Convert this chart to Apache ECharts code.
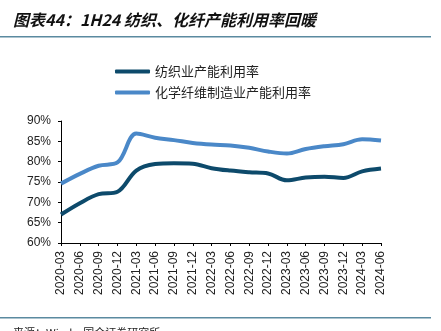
<!DOCTYPE html>
<html>
<head>
<meta charset="utf-8">
<script src="https://cdn.jsdelivr.net/npm/echarts@6/dist/echarts.min.js"></script>
<style>html,body{margin:0;padding:0;background:#fff}#c{width:441px;height:331px}</style>
</head>
<body>
<div id="c"></div>
<script>
var categories = ['2020-03','2020-06','2020-09','2020-12','2021-03','2021-06','2021-09','2021-12','2022-03','2022-06','2022-09','2022-12','2023-03','2023-06','2023-09','2023-12','2024-03','2024-06'];
var textileValues = [67.0, 69.8, 72.0, 72.6, 77.8, 79.4, 79.6, 79.5, 78.4, 77.8, 77.4, 77.1, 75.4, 76.1, 76.3, 76.0, 77.6, 78.3];
var fiberValues = [74.6, 77.0, 79.0, 79.8, 86.9, 85.9, 85.3, 84.6, 84.2, 84.0, 83.4, 82.5, 82.0, 83.1, 83.8, 84.3, 85.5, 85.2];
var seriesNames = ['纺织业产能利用率', '化学纤维制造业产能利用率'];
var titleText = '图表44：1H24 纺织、化纤产能利用率回暖';
var sourceText = '来源：Wind，国金证券研究所';

var chart = echarts.init(document.getElementById('c'), null, {renderer: 'canvas'});
var cjk = '"Liberation Sans", Arial, "Noto Sans CJK SC", sans-serif';
chart.setOption({
  animation: false,
  backgroundColor: '#fff',
  graphic: [
    {type: 'text', left: 13, top: 12, style: {text: titleText, font: 'italic bold 16px "Noto Sans CJK SC", sans-serif', fill: '#111'}},
    {type: 'rect', shape: {x: 0, y: 36, width: 431, height: 1.6}, style: {fill: '#5a8aa0'}},
    {type: 'rect', shape: {x: 0, y: 317, width: 431, height: 1.6}, style: {fill: '#5a8aa0'}},
    {type: 'text', left: 13, top: 327, style: {text: sourceText, font: '11px "Noto Sans CJK SC", sans-serif', fill: '#222'}}
  ],
  legend: {
    orient: 'vertical',
    left: 110,
    top: 60,
    itemWidth: 35,
    itemHeight: 4,
    itemGap: 8,
    icon: 'roundRect',
    textStyle: {fontSize: 13, color: '#222', fontFamily: '"Noto Sans CJK SC", sans-serif'},
    data: seriesNames
  },
  grid: {left: 61, right: 60, top: 121, bottom: 88, containLabel: false},
  xAxis: {
    type: 'category',
    data: categories,
    boundaryGap: false,
    axisLine: {lineStyle: {color: '#000', width: 1}},
    axisTick: {show: true, length: 3, lineStyle: {color: '#000'}},
    axisLabel: {rotate: 90, fontSize: 12, color: '#222', fontFamily: cjk, margin: 8, interval: 0}
  },
  yAxis: {
    type: 'value',
    min: 60, max: 90, interval: 5,
    splitLine: {show: false},
    axisLine: {show: true, lineStyle: {color: '#000', width: 1}},
    axisTick: {show: true, length: 3, lineStyle: {color: '#000'}},
    axisLabel: {formatter: '{value}%', fontSize: 12, color: '#222', fontFamily: cjk, margin: 10}
  },
  series: [
    {name: seriesNames[0], type: 'line', data: textileValues, smooth: 0.35, showSymbol: false, symbol: 'none',
     lineStyle: {width: 4, color: '#0d4a6b'}, itemStyle: {color: '#0d4a6b'}},
    {name: seriesNames[1], type: 'line', data: fiberValues, smooth: 0.35, showSymbol: false, symbol: 'none',
     lineStyle: {width: 4, color: '#4a88c8'}, itemStyle: {color: '#4a88c8'}}
  ]
});
</script>
</body>
</html>
